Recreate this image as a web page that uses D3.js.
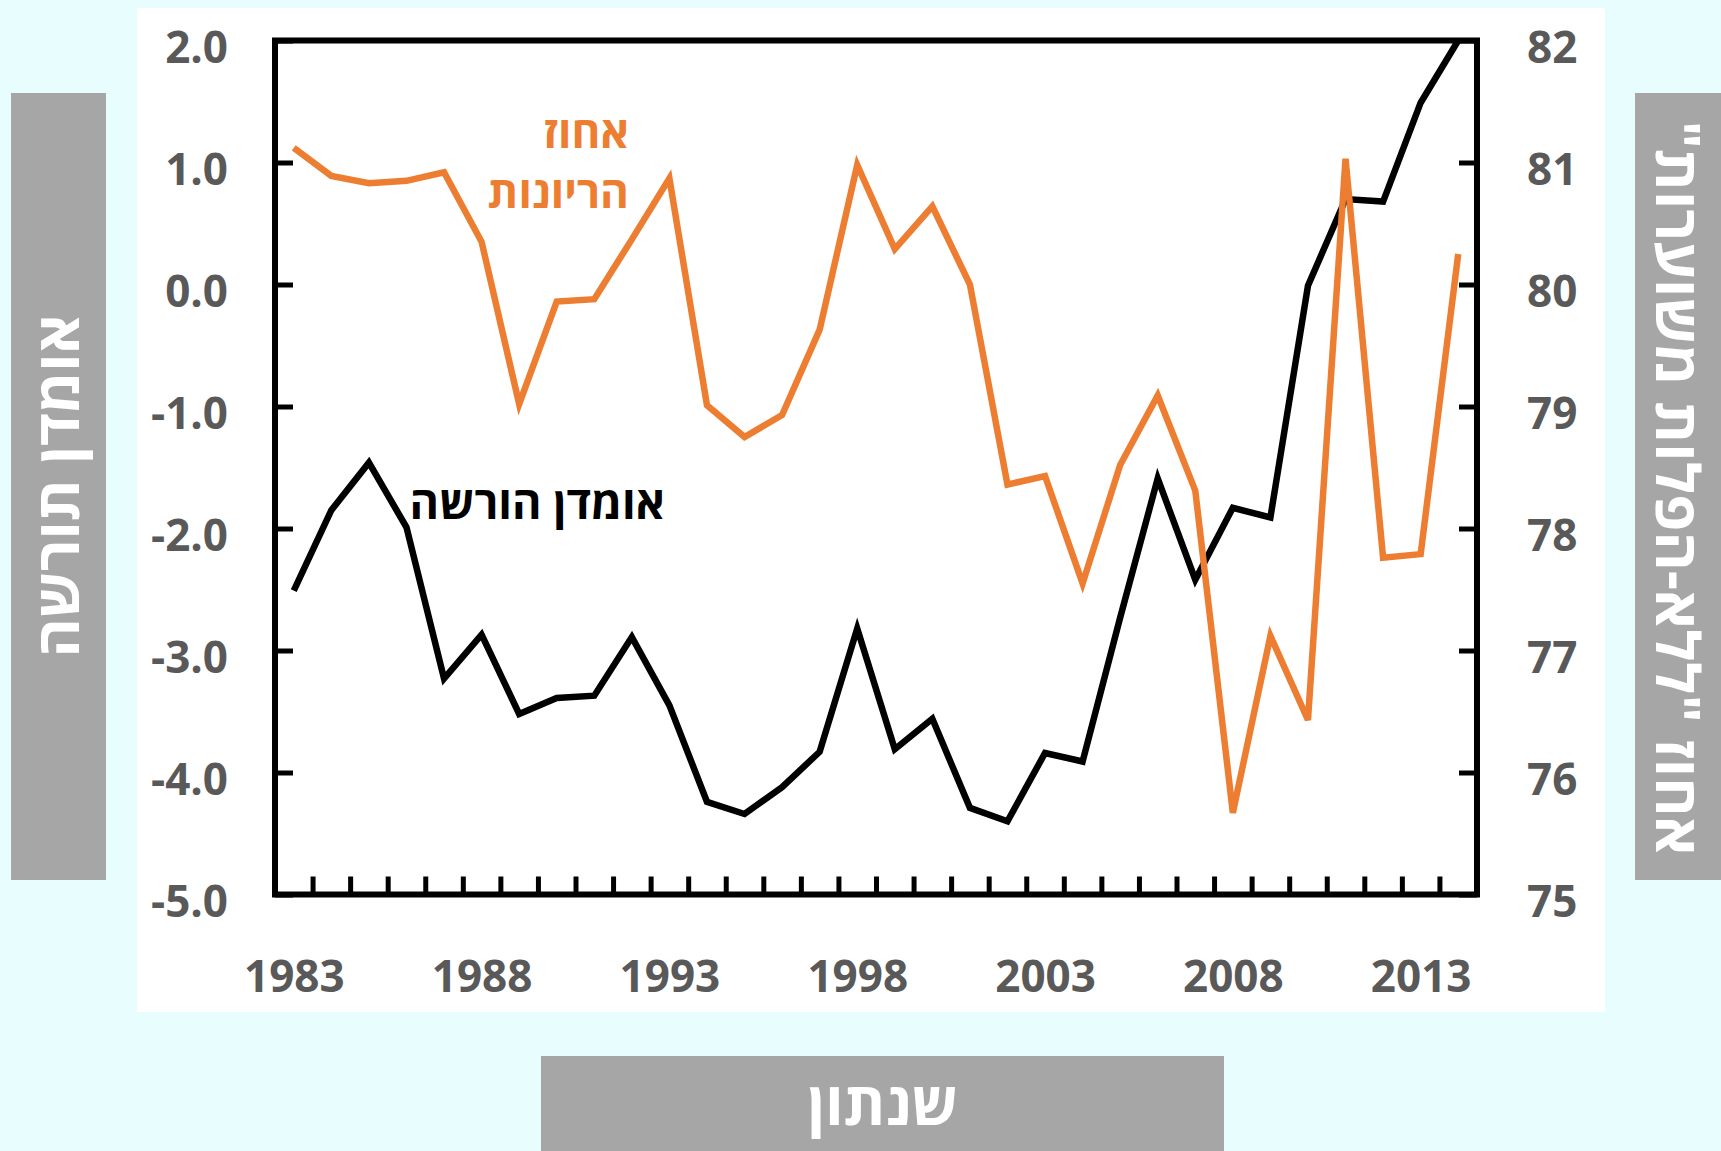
<!DOCTYPE html>
<html>
<head>
<meta charset="utf-8">
<script src="https://cdn.jsdelivr.net/npm/d3@7"></script>
<style>
  body { margin: 0; background: #e8fdfd; }
  svg { display: block; }
</style>
</head>
<body>
<div id="chart"></div>
<script>
// Years on the x axis
const years = d3.range(1983, 2015);
const yearLabels = [1983, 1988, 1993, 1998, 2003, 2008, 2013];

// Heritability estimate (left axis)
const heritability = [
  -2.51, -1.85, -1.46, -1.99, -3.23, -2.87, -3.52, -3.39, -3.37, -2.89,
  -3.45, -4.24, -4.34, -4.12, -3.83, -2.82, -3.81, -3.56, -4.29, -4.40,
  -3.84, -3.91, -2.73, -1.59, -2.42, -1.83, -1.91, -0.01, 0.70, 0.68,
  1.49, 2.00
];

// Percent of pregnancies (right axis)
const pregnancies = [
  81.12, 80.89, 80.83, 80.85, 80.92, 80.35, 79.02, 79.86, 79.88, 80.37,
  80.87, 79.01, 78.75, 78.93, 79.63, 80.98, 80.29, 80.64, 80.00, 78.36,
  78.43, 77.55, 78.52, 79.09, 78.31, 75.67, 77.12, 76.43, 81.03, 77.76,
  77.79, 80.25
];

const leftTicks = [2, 1, 0, -1, -2, -3, -4, -5];
const rightTicks = [82, 81, 80, 79, 78, 77, 76, 75];

const width = 1721;
const height = 1151;
const plot = { left: 275, right: 1477, top: 40.5, bottom: 894.5 };
const gray = '#595959';
const orange = '#ed7d31';
const labelFont = '"Open Sans", "Liberation Sans", "DejaVu Sans", sans-serif';
const hebFont = '"Open Sans", "Liberation Sans", "DejaVu Sans", sans-serif';

const svg = d3.select('#chart')
  .append('svg')
  .attr('width', width)
  .attr('height', height);

svg.append('rect')
  .attr('width', width)
  .attr('height', height)
  .attr('fill', '#e8fdfd');

// White chart area
svg.append('rect')
  .attr('x', 137).attr('y', 8)
  .attr('width', 1468).attr('height', 1004)
  .attr('fill', '#ffffff');

// Scales
const x = d3.scaleLinear()
  .domain([1982.5, 2014.5])
  .range([plot.left, plot.right]);

const yLeft = d3.scaleLinear()
  .domain([-5, 2])
  .range([plot.bottom, plot.top]);

const yRight = d3.scaleLinear()
  .domain([75, 82])
  .range([plot.bottom, plot.top]);

// plain hyphen instead of unicode minus
const fmtLeft = d => (d < 0 ? '-' : '') + Math.abs(d).toFixed(1);

// Axes
const leftAxis = svg.append('g')
  .attr('transform', `translate(${plot.left},0)`)
  .call(d3.axisLeft(yLeft)
    .tickValues(leftTicks)
    .tickSize(-18)
    .tickPadding(47)
    .tickFormat(fmtLeft));

const rightAxis = svg.append('g')
  .attr('transform', `translate(${plot.right},0)`)
  .call(d3.axisRight(yRight)
    .tickValues(rightTicks)
    .tickSize(-18)
    .tickPadding(50)
    .tickFormat(d3.format('d')));

// Tick marks between years
svg.append('g')
  .attr('transform', `translate(0,${plot.bottom})`)
  .call(d3.axisBottom(x)
    .tickValues(d3.range(1983.5, 2014, 1))
    .tickSize(-18)
    .tickFormat(''));

// Year labels
const bottomAxis = svg.append('g')
  .attr('transform', `translate(0,${plot.bottom})`)
  .call(d3.axisBottom(x)
    .tickValues(yearLabels)
    .tickSize(0)
    .tickPadding(66)
    .tickFormat(d3.format('d')));

svg.selectAll('.domain').remove();
svg.selectAll('.tick line')
  .attr('stroke', '#000')
  .attr('stroke-width', 5);

svg.selectAll('.tick text')
  .attr('fill', gray)
  .style('font-family', labelFont)
  .style('font-size', '44px')
  .style('font-weight', 700);

leftAxis.selectAll('.tick text').attr('transform', 'translate(0,8)');
rightAxis.selectAll('.tick text').attr('transform', 'translate(0,8)');
bottomAxis.selectAll('.tick line').remove();

// Lines
const lineLeft = d3.line()
  .x((d, i) => x(years[i]))
  .y(d => yLeft(d));

const lineRight = d3.line()
  .x((d, i) => x(years[i]))
  .y(d => yRight(d));

svg.append('path')
  .datum(heritability)
  .attr('fill', 'none')
  .attr('stroke', '#000')
  .attr('stroke-width', 6.5)
  .attr('d', lineLeft);

svg.append('path')
  .datum(pregnancies)
  .attr('fill', 'none')
  .attr('stroke', orange)
  .attr('stroke-width', 6.5)
  .attr('d', lineRight);

// Plot border
svg.append('rect')
  .attr('x', plot.left).attr('y', plot.top)
  .attr('width', plot.right - plot.left)
  .attr('height', plot.bottom - plot.top)
  .attr('fill', 'none')
  .attr('stroke', '#000')
  .attr('stroke-width', 6);

// Series labels
svg.append('text')
  .attr('x', 629).attr('y', 148)
  .attr('text-anchor', 'end')
  .attr('fill', orange)
  .style('font-family', hebFont)
  .style('font-size', '44px')
  .style('font-weight', 700)
  .text('אחוז');

svg.append('text')
  .attr('x', 629).attr('y', 208)
  .attr('text-anchor', 'end')
  .attr('fill', orange)
  .style('font-family', hebFont)
  .style('font-size', '44px')
  .style('font-weight', 700)
  .text('הריונות');

svg.append('text')
  .attr('x', 665).attr('y', 519)
  .attr('text-anchor', 'end')
  .attr('fill', '#000')
  .style('font-family', hebFont)
  .style('font-size', '45px')
  .style('font-weight', 700)
  .text('אומדן הורשה');

// Gray title boxes
const boxColor = '#a6a6a6';

svg.append('rect')
  .attr('x', 11).attr('y', 93)
  .attr('width', 95).attr('height', 787)
  .attr('fill', boxColor);

svg.append('text')
  .attr('transform', 'translate(58,486) rotate(-90)')
  .attr('text-anchor', 'middle')
  .attr('dy', '0.35em')
  .attr('fill', '#fff')
  .style('font-family', hebFont)
  .style('font-size', '60px')
  .style('font-weight', 700)
  .text('אומדן תורשה');

svg.append('rect')
  .attr('x', 1635).attr('y', 93)
  .attr('width', 86).attr('height', 787)
  .attr('fill', boxColor);

svg.append('text')
  .attr('transform', 'translate(1677,488) rotate(90)')
  .attr('text-anchor', 'middle')
  .attr('direction', 'rtl')
  .attr('dy', '0.35em')
  .attr('fill', '#fff')
  .style('font-family', hebFont)
  .style('font-size', '60px')
  .style('font-weight', 700)
  .text('אחוז "ללא-הפלות משוערות"');

svg.append('rect')
  .attr('x', 541).attr('y', 1056)
  .attr('width', 683).attr('height', 95)
  .attr('fill', boxColor);

svg.append('text')
  .attr('x', 883).attr('y', 1104)
  .attr('text-anchor', 'middle')
  .attr('dy', '0.35em')
  .attr('fill', '#fff')
  .style('font-family', hebFont)
  .style('font-size', '60px')
  .style('font-weight', 700)
  .text('שנתון');
</script>
</body>
</html>
